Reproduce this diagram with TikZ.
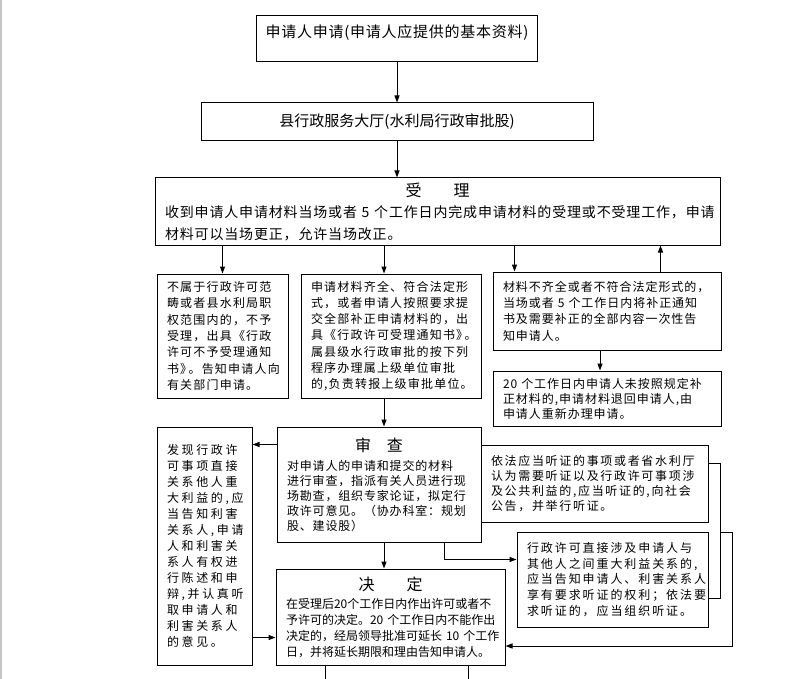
\documentclass[tikz,border=0pt]{standalone}
\usepackage{fontspec}
\setmainfont{Noto Sans CJK SC}
\usetikzlibrary{positioning, arrows.meta}

\newcommand{\cjksize}[3]{\fontsize{#1}{#2}\selectfont\addfontfeatures{LetterSpace=#3}}
\newcommand{\boxtitle}[2]{\makebox[\hsize]{\fontsize{16}{19}\selectfont #1}\\[#2]}

\begin{document}
\begin{tikzpicture}[
    x=1pt, y=-1pt,
    flowbox/.style={
        rectangle,
        draw,
        line width=1pt,
        inner xsep=10pt,
        inner ysep=0pt,
        align=left
    },
    headbox/.style={
        flowbox,
        align=center,
        inner xsep=0pt
    },
    arr/.style={-{Triangle[length=7pt,width=5pt]}, line width=1pt},
    bracket/.style={line width=1pt}
]
\useasboundingbox (0,0) rectangle (792,679);
\draw[gray!45, line width=1.5pt] (0.75,0) -- (0.75,679);

% Application
\node[headbox, minimum width=281pt, minimum height=46pt, text depth=15pt,
      font=\cjksize{15}{18}{5}] (apply) at (397,39)
{申请人申请(申请人应提供的基本资料)};

% Service hall
\node[headbox, minimum width=392pt, minimum height=38pt,
      font=\cjksize{15}{18}{0}, below=40pt of apply] (hall)
{县行政服务大厅(水利局行政审批股)};

% Acceptance
\node[flowbox, text width=545pt, minimum height=67pt,
      font=\cjksize{14}{21.5}{6}] (accept) at (437.5,211.5)
{\boxtitle{受\hspace{2em}理}{0pt}%
收到申请人申请材料当场或者~5~个工作日内完成申请材料的受理或不受理工作，申请\\
材料可以当场更正，允许当场改正。};

% Three outcomes of acceptance
\node[flowbox, text width=111pt, minimum height=124pt,
      font=\cjksize{12}{16.3}{10}] (reject) at (222.5,336)
{不属于行政许可范\\
畴或者县水利局职\\
权范围内的，不予\\
受理，出具《行政\\
许可不予受理通知\\
书》\kern-0.3em。告知申请人向\\
有关部门申请。};

\node[flowbox, text width=160pt, minimum height=124pt,
      font=\cjksize{12}{16.3}{10}] (okbox) at (391,336)
{申请材料齐全、符合法定形\\
式，或者申请人按照要求提\\
交全部补正申请材料的，出\\
具《行政许可受理通知书》\kern-0.3em。\\
属县级水行政审批的按下列\\
程序办理属上级单位审批\\
的,负责转报上级审批单位。};

\node[flowbox, text width=208pt, minimum height=78pt,
      font=\cjksize{12}{16.3}{8}] (incomplete) at (607,311)
{材料不齐全或者不符合法定形式的，\\
当场或者~5~个工作日内将补正通知\\
书及需要补正的全部内容一次性告\\
知申请人。};

\node[flowbox, text width=208pt, minimum height=55pt,
      font=\cjksize{12}{15}{8}, below=20pt of incomplete] (resubmit)
{20~个工作日内申请人未按照规定补\\
正材料的,申请材料退回申请人,由\\
申请人重新办理申请。};

% Review and hearings
\node[flowbox, text width=75pt, minimum height=238pt,
      font=\cjksize{12}{16}{22}] (notify) at (204.5,546)
{发现行政许\\
可事项直接\\
关系他人重\\
大利益的,应\\
当告知利害\\
关系人,申请\\
人和利害关\\
系人有权进\\
行陈述和申\\
辩,并认真听\\
取申请人和\\
利害关系人\\
的意见。};

\node[flowbox, text width=184pt, minimum height=115pt,
      font=\cjksize{12}{15}{7}] (review) at (379,484.5)
{\boxtitle{审\hspace{1em}查}{4pt}%
对申请人的申请和提交的材料\\
进行审查，指派有关人员进行现\\
场勘查，组织专家论证，拟定行\\
政许可意见。（协办科室：规划\\
股、建设股）};

\node[flowbox, text width=207pt, minimum height=77pt,
      font=\cjksize{12}{15}{14}] (hearing1) at (594.5,483.5)
{依法应当听证的事项或者省水利厅\\
认为需要听证以及行政许可事项涉\\
及公共利益的,应当听证的,向社会\\
公告，并举行听证。};

\node[flowbox, text width=171pt, minimum height=95pt,
      font=\cjksize{12}{15.75}{16}] (hearing2) at (612.5,579.5)
{行政许可直接涉及申请人与\\
其他人之间重大利益关系的,\\
应当告知申请人、利害关系人\\
享有要求听证的权利；依法要\\
求听证的，应当组织听证。};

% Decision
\node[flowbox, text width=209pt, minimum height=96pt,
      font=\cjksize{12}{15.7}{0}] (decide) at (390.5,617)
{\boxtitle{决\hspace{2em}定}{3pt}%
在受理后20个工作日内作出许可或者不\\
予许可的决定。20~个工作日内不能作出\\
决定的，经局领导批准可延长~10~个工作\\
日，并将延长期限和理由告知申请人。};

% Helper points
\coordinate (brk) at (720,532);
\coordinate (brk2) at (732,646);
\coordinate (bottom) at (0,681);

% Main line
\draw[arr] (apply) -- (hall);
\draw[arr] (hall) -- (hall |- accept.north);

\draw[arr] (accept.south -| reject) -- (reject);
\draw[arr] ([xshift=-7pt]okbox.north |- accept.south) -- ([xshift=-7pt]okbox.north);
\draw[arr] ([xshift=22pt]incomplete.north west |- accept.south) -- ([xshift=22pt]incomplete.north west);
\draw[arr] ([xshift=-61pt]incomplete.north east) -- ([xshift=-61pt]incomplete.north east |- accept.south);
\draw[arr] ([xshift=-7pt]incomplete.south) -- ([xshift=-7pt]resubmit.north);

\draw[arr] ([xshift=-7pt]okbox.south) -- ([xshift=-7pt]okbox.south |- review.north);
\draw[arr] ([yshift=-18pt]review.north west) -- ([yshift=-18pt]review.north west -| notify.east);
\draw[arr] ([yshift=28pt]notify.south east) -- ([yshift=28pt]notify.south east -| decide.west);
\draw[arr] ([xshift=5pt]review.south) -- ([xshift=5pt]review.south |- decide.north);
\draw[arr] ([xshift=-37pt]review.south east) |- ([yshift=-28pt]hearing2.north west);

% Hearing results back to decision
\draw[bracket] ([yshift=-19pt]hearing1.north east) -| (brk) |- ([yshift=29pt]hearing2.south east);
\draw[arr] (brk) -| (brk2) -- (brk2 -| decide.east);

% Lines leaving the page
\draw[bracket] ([xshift=-65.5pt]decide.south) -- ([xshift=-65.5pt]decide.south |- bottom);
\draw[bracket] ([xshift=77.5pt]decide.south) -- ([xshift=77.5pt]decide.south |- bottom);
\end{tikzpicture}
\end{document}
